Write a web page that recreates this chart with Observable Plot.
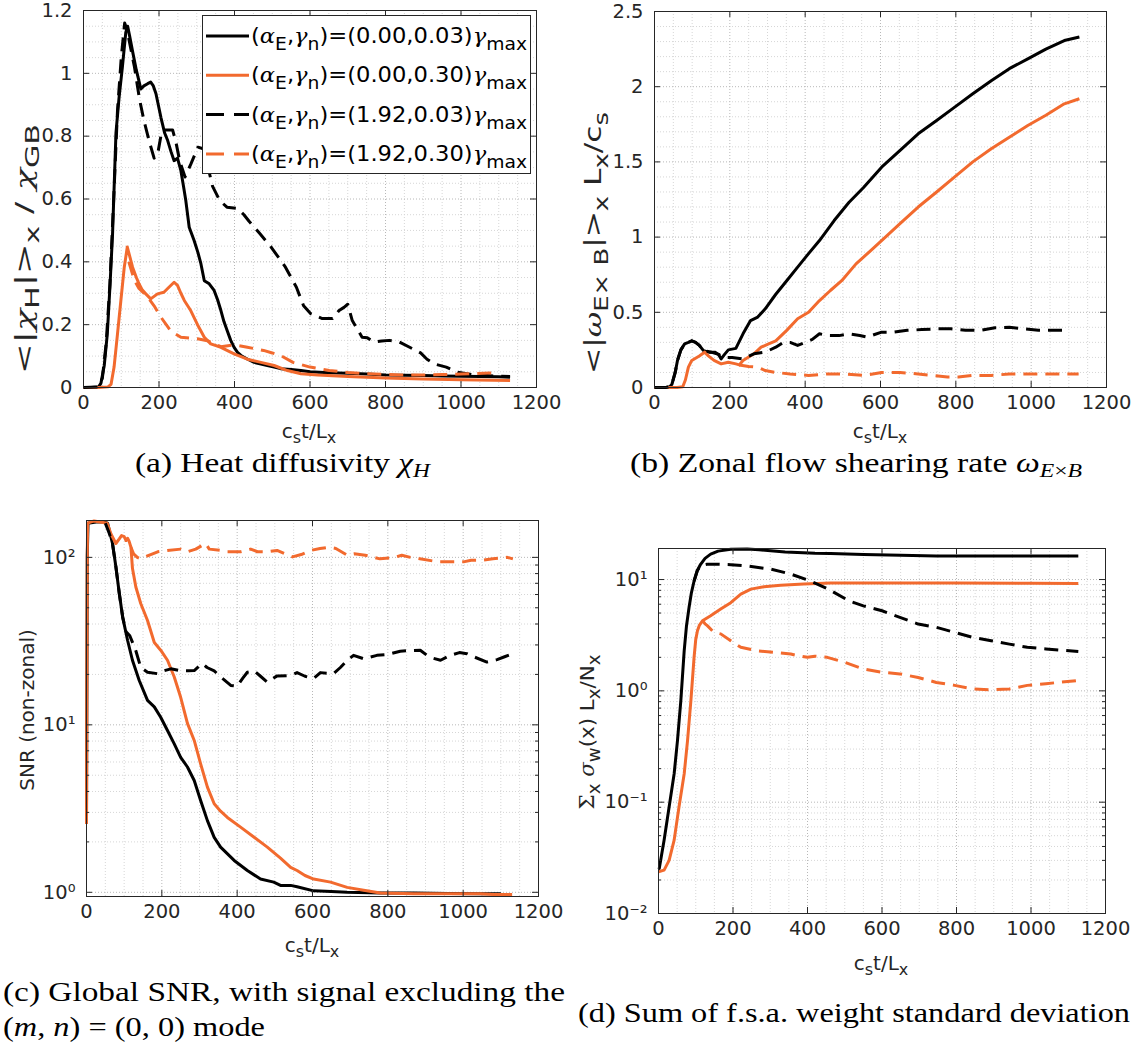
<!DOCTYPE html>
<html><head><meta charset="utf-8">
<script src="https://cdn.jsdelivr.net/npm/d3@7"></script>
<script src="https://cdn.jsdelivr.net/npm/@observablehq/plot@0.6"></script>
<style>
html,body{margin:0;padding:0;background:#fff;}
body{width:1142px;height:1050px;position:relative;overflow:hidden;}
.panel{position:absolute;}
#overlay{position:absolute;left:0;top:0;}
</style></head><body>
<div id="pa" class="panel" style="left:0;top:0"></div>
<div id="pb" class="panel" style="left:571px;top:0"></div>
<div id="pc" class="panel" style="left:0;top:500px"></div>
<div id="pd" class="panel" style="left:571px;top:500px"></div>
<svg id="overlay" width="1142" height="1050"></svg>
<script>
// ---------------- data (time c_s t / L_x, value) ----------------
const legendLabels = ["(0.00,0.03)", "(0.00,0.30)", "(1.92,0.03)", "(1.92,0.30)"];

// (a) heat diffusivity
const chiA_black = [[0,0],[20,0],[40,0.002],[46,0.013],[55,0.07],[63,0.17],[70,0.32],[77,0.49],[86,0.81],[94,0.92],[103,1.02],[112,1.13],[117,1.15],[122,1.12],[130,1.07],[140,1.01],[147,0.975],[152,0.95],[160,0.96],[170,0.967],[178,0.972],[185,0.96],[192,0.935],[205,0.86],[215,0.81],[223,0.786],[232,0.75],[240,0.722],[249,0.73],[258,0.69],[265,0.64],[271,0.595],[280,0.51],[293,0.468],[303,0.43],[311,0.394],[320,0.34],[333,0.33],[346,0.309],[355,0.28],[364,0.245],[372,0.21],[381,0.18],[390,0.15],[399,0.128],[408,0.112],[417,0.102],[435,0.09],[452,0.08],[470,0.075],[487,0.07],[505,0.065],[522,0.06],[550,0.057],[576,0.054],[600,0.05],[650,0.047],[700,0.045],[750,0.043],[800,0.04],[850,0.039],[900,0.038],[950,0.037],[1000,0.036],[1050,0.035],[1100,0.034],[1130,0.033]];
const chiA_orange = [[0,0],[40,0],[65,0.002],[73,0.01],[81,0.065],[90,0.17],[99,0.277],[108,0.383],[116,0.447],[122,0.42],[130,0.383],[140,0.35],[147,0.33],[156,0.31],[165,0.298],[178,0.282],[196,0.298],[213,0.303],[227,0.32],[240,0.335],[249,0.325],[258,0.3],[267,0.277],[284,0.245],[302,0.2],[320,0.16],[337,0.139],[364,0.128],[399,0.107],[434,0.09],[470,0.08],[505,0.07],[540,0.054],[576,0.044],[620,0.04],[700,0.035],[800,0.03],[900,0.027],[1000,0.025],[1130,0.022]];
const chiA_blackDash = [[0,0],[40,0.002],[50,0.03],[60,0.14],[70,0.33],[80,0.6],[90,0.88],[100,1.05],[109,1.16],[115,1.14],[125,1.08],[135,1.02],[148,0.92],[160,0.85],[175,0.78],[187,0.73],[196,0.74],[205,0.8],[216,0.82],[236,0.82],[245,0.78],[255,0.72],[269,0.67],[284,0.71],[303,0.765],[317,0.76],[330,0.7],[342,0.64],[361,0.595],[380,0.574],[408,0.57],[425,0.55],[438,0.53],[467,0.49],[497,0.447],[535,0.383],[564,0.319],[583,0.26],[602,0.235],[631,0.22],[660,0.22],[677,0.245],[690,0.255],[700,0.265],[712,0.213],[738,0.16],[752,0.158],[770,0.145],[790,0.148],[810,0.15],[835,0.146],[864,0.128],[893,0.11],[910,0.09],[929,0.075],[961,0.065],[991,0.049],[1035,0.04],[1070,0.038],[1100,0.036],[1130,0.035]];
const chiA_orangeDash = [[120,0.40],[130,0.36],[140,0.33],[147,0.315],[160,0.30],[169,0.29],[187,0.26],[205,0.224],[231,0.18],[258,0.16],[302,0.155],[328,0.149],[364,0.13],[399,0.136],[434,0.128],[477,0.118],[500,0.11],[525,0.1],[555,0.08],[600,0.065],[651,0.054],[700,0.048],[747,0.044],[800,0.042],[842,0.04],[900,0.04],[950,0.041],[1000,0.043],[1038,0.044],[1076,0.046],[1100,0.046]];

// (b) zonal flow shearing rate
const omegaB_black = [[0,0],[30,0],[40,0.005],[46,0.02],[55,0.1],[61,0.18],[70,0.25],[80,0.29],[90,0.30],[99,0.31],[109,0.30],[119,0.28],[130,0.245],[145,0.235],[160,0.235],[170,0.22],[177,0.19],[186,0.22],[196,0.25],[216,0.26],[235,0.357],[255,0.445],[274,0.468],[294,0.523],[322,0.62],[351,0.71],[380,0.80],[409,0.89],[438,0.977],[477,1.11],[516,1.23],[555,1.33],[603,1.465],[652,1.576],[700,1.687],[749,1.775],[797,1.864],[845,1.953],[894,2.04],[942,2.12],[991,2.185],[1039,2.25],[1088,2.307],[1128,2.33]];
const omegaB_orange = [[0,0],[60,0],[75,0.005],[82,0.05],[90,0.135],[99,0.18],[119,0.21],[133,0.235],[143,0.21],[158,0.18],[177,0.157],[196,0.168],[216,0.157],[225,0.15],[235,0.18],[264,0.224],[283,0.268],[303,0.29],[322,0.31],[351,0.38],[380,0.457],[409,0.5],[438,0.578],[467,0.645],[497,0.71],[535,0.822],[574,0.91],[613,1.0],[651,1.088],[700,1.2],[749,1.3],[797,1.4],[845,1.5],[894,1.587],[942,1.664],[991,1.742],[1039,1.81],[1088,1.886],[1128,1.92]];
const omegaB_blackDash = [[0,0],[30,0],[40,0.005],[46,0.02],[55,0.1],[61,0.18],[70,0.25],[80,0.29],[90,0.30],[99,0.31],[109,0.30],[119,0.28],[130,0.245],[150,0.235],[170,0.22],[185,0.2],[206,0.2],[235,0.19],[264,0.224],[294,0.235],[322,0.268],[342,0.30],[360,0.3],[380,0.28],[400,0.30],[419,0.32],[438,0.357],[458,0.346],[490,0.345],[516,0.357],[545,0.346],[564,0.335],[603,0.368],[632,0.368],[671,0.38],[710,0.385],[749,0.39],[787,0.39],[826,0.38],[865,0.38],[904,0.397],[942,0.40],[981,0.39],[1019,0.38],[1088,0.38]];
const omegaB_orangeDash = [[225,0.15],[250,0.14],[274,0.135],[294,0.113],[322,0.10],[360,0.09],[409,0.08],[458,0.09],[505,0.09],[555,0.08],[603,0.10],[652,0.10],[700,0.09],[740,0.08],[778,0.07],[807,0.07],[845,0.08],[894,0.08],[942,0.09],[1000,0.09],[1039,0.09],[1126,0.09]];

// (c) global SNR (non-zonal)
const snrC_black = [[0,2.6],[2,100],[4,160],[30,163],[50,162],[56,160],[69,121],[78,88],[87,61],[96,44],[109,32],[122,24.3],[140,18.4],[162,14],[180,12.8],[197,11.1],[215,9.25],[233,7.7],[250,6.4],[268,5.6],[286,4.65],[303,3.53],[321,2.68],[339,2.13],[356,1.86],[392,1.55],[427,1.35],[462,1.2],[497,1.15],[515,1.1],[542,1.1],[559,1.08],[603,1.02],[650,1.01],[692,1.0],[780,0.99],[870,0.99],[960,0.985],[1045,0.98],[1100,0.98]];
const snrC_orange = [[0,2.56],[1,20],[2,100],[3,160],[20,165],[40,162],[55,160],[65,138],[78,121],[87,129],[93,135],[100,133],[105,126],[109,130],[113,125],[118,115],[122,86],[131,66.5],[144,53],[162,42],[180,31],[197,27.9],[215,24.3],[233,19.3],[250,14.6],[268,10.2],[286,8.07],[303,5.85],[321,4.25],[339,3.38],[356,3.05],[374,2.8],[409,2.45],[445,2.13],[480,1.86],[515,1.6],[542,1.41],[559,1.35],[580,1.26],[603,1.2],[648,1.15],[692,1.07],[736,1.03],[780,0.99],[869,0.98],[957,0.98],[1045,0.98],[1081,0.97],[1130,0.97]];
const snrC_blackDash = [[50,160],[60,140],[69,121],[78,88],[87,61],[96,44],[105,36],[115,34],[125,30],[131,27.7],[144,22],[162,20.6],[189,20.2],[205,21],[224,21.6],[250,21],[270,21],[286,21.1],[300,22.5],[308,23.2],[320,22],[339,21],[360,19],[383,17.2],[400,17],[415,19],[427,20.6],[445,21],[462,19.5],[480,18],[506,19.6],[542,19.7],[559,20.5],[580,19.5],[603,18.9],[621,20.5],[656,20.2],[674,22],[690,24],[709,26],[736,24.8],[771,26],[798,26.3],[833,27.5],[851,27.7],[886,27.9],[904,26],[920,25],[940,24.3],[966,26],[990,27],[1010,26.6],[1028,25.5],[1063,23.7],[1090,24.5],[1110,25.5],[1132,26.6]];
const snrC_orangeDash = [[118,115],[125,105],[135,100],[144,98],[162,102],[189,108],[215,110],[250,112],[268,108],[290,112],[316,121],[326,112],[356,110],[374,108],[409,108],[436,112],[454,108],[480,108],[506,110],[547,100.6],[570,104],[595,110],[620,113],[644,115],[662,113],[692,103],[711,105],[740,103],[779,98],[818,100],[837,103],[860,100],[885,98],[934,94],[963,94],[1001,94],[1021,96],[1050,96],[1079,98],[1117,100],[1132,98]];

// (d) sum of f.s.a. weight standard deviation
const sigD_black = [[0,0.025],[2,0.0254],[15,0.0456],[28.5,0.0906],[42,0.18],[51,0.359],[60,0.82],[69,2.3],[75,3.8],[82,5.6],[88,7.5],[95.5,9.7],[104,12],[113,13.7],[125,15.5],[140,16.9],[160,18],[194,18.7],[238,18.8],[270,18.5],[301,18.1],[340,17.7],[373,17.5],[420,17.2],[462,17.1],[550,16.8],[650,16.5],[746,16.3],[850,16.3],[950,16.3],[1050,16.3],[1127,16.3]];
const sigD_orange = [[0,0.0237],[15,0.0245],[28.5,0.030],[42,0.0456],[55,0.0906],[69,0.18],[78,0.359],[87,0.82],[95.5,2.0],[100,2.9],[104.6,3.47],[110,3.9],[118,4.26],[140,4.73],[167,5.43],[194,6.2],[221,7.4],[248,8.2],[283,8.6],[328,8.9],[390,9.1],[462,9.3],[600,9.3],[800,9.3],[1000,9.25],[1127,9.2]];
const sigD_blackDash = [[95.5,9.7],[104,12],[113,13.3],[130,13.7],[158,13.7],[194,13.6],[240,13.2],[301,12.4],[355,11.2],[408,9.7],[453,8.3],[511,6.44],[550,5.8],[600,5.24],[648,4.57],[697,3.98],[746,3.72],[795,3.35],[844,3.02],[893,2.82],[942,2.63],[990,2.46],[1040,2.38],[1127,2.26]];
const sigD_orangeDash = [[118,4.26],[125,4.0],[131,3.85],[149,3.35],[167,3.25],[194,2.82],[221,2.46],[265,2.29],[310,2.22],[355,2.14],[380,2.05],[400,2.0],[420,2.05],[453,2.0],[501,1.8],[550,1.57],[600,1.47],[648,1.42],[697,1.32],[746,1.19],[795,1.12],[844,1.04],[893,1.02],[942,1.04],[990,1.12],[1040,1.16],[1127,1.24]];

// axis ticks
const xMajor = [0,200,400,600,800,1000,1200];
const yMajorA = [0,0.2,0.4,0.6,0.8,1,1.2];
const yMajorB = [0,0.5,1,1.5,2,2.5];
const yMajorC = [1,10,100];
const yMajorD = [0.01,0.1,1,10];

// ---------------- styling ----------------
const BLACK = "#000000", ORANGE = "#f26a2e", DASH = "14,8";
const FONT = '"DejaVu Sans",sans-serif';
const xMinor = d3.range(0,1201,50).filter(v => v % 200 !== 0);
const yMinorA = d3.range(0,1.2001,0.05).filter(v => Math.abs(v/0.2 - Math.round(v/0.2)) > 1e-6);
const yMinorB = d3.range(0,2.5001,0.1).filter(v => Math.abs(v/0.5 - Math.round(v/0.5)) > 1e-6);
function logMinor(dom){ const out=[]; for(let e=-3;e<=3;e++) for(let m=2;m<=9;m++){const v=m*10**e; if(v>dom[0]&&v<dom[1]) out.push(v);} return out; }
const sup = {"0":"\u2070","1":"\u00b9","2":"\u00b2","-":"\u207b"};
const logFmt = d => "10" + String(Math.round(Math.log10(d))).split("").map(c=>sup[c]).join("");
const linFmt = d => String(+d.toFixed(2));

function makePanel(el, o){
  const innerW = o.width - o.mL - o.mR, innerH = o.height - o.mT - o.mB;
  const tickC = "#262626";
  const series = [
    {data:o.s[0], color:BLACK, dash:null},
    {data:o.s[1], color:ORANGE, dash:null},
    {data:o.s[2], color:BLACK, dash:DASH},
    {data:o.s[3], color:ORANGE, dash:DASH}
  ];
  const marks = [
    Plot.ruleX(xMinor, {stroke:"#d6d6d6", strokeDasharray:"1,2"}),
    Plot.ruleY(o.yMinor, {stroke:"#d6d6d6", strokeDasharray:"1,2"}),
    Plot.ruleX(xMajor, {stroke:"#b8b8b8", strokeDasharray:"1,2"}),
    Plot.ruleY(o.yMajor, {stroke:"#b8b8b8", strokeDasharray:"1,2"}),
    ...series.map(s => Plot.line(s.data, {x: d=>d[0], y: d=>d[1], stroke: s.color, strokeWidth: 3,
        strokeDasharray: s.dash, strokeLinejoin:"round", strokeLinecap:"butt"})),
    Plot.frame({stroke:tickC, strokeWidth:1}),
    Plot.tickX(xMajor, {x:d=>d, insetTop: innerH-6, stroke:tickC}),
    Plot.tickX(xMajor, {x:d=>d, insetBottom: innerH-6, stroke:tickC}),
    Plot.tickY(o.yMajor, {y:d=>d, insetRight: innerW-6, stroke:tickC}),
    Plot.tickY(o.yMajor, {y:d=>d, insetLeft: innerW-6, stroke:tickC}),
    Plot.axisX({ticks:xMajor, tickSize:0, tickPadding:8, label:null, tickFormat:d=>String(d)}),
    Plot.axisY({ticks:o.yMajor, tickSize:0, tickPadding:11, label:null, tickFormat:o.fmt})
  ];
  if (o.type === "log") {
    marks.push(Plot.tickY(o.yMinor, {y:d=>d, insetRight: innerW-3, stroke:tickC}));
    marks.push(Plot.tickY(o.yMinor, {y:d=>d, insetLeft: innerW-3, stroke:tickC}));
  }
  const chart = Plot.plot({
    width:o.width, height:o.height,
    marginLeft:o.mL, marginRight:o.mR, marginTop:o.mT, marginBottom:o.mB,
    x:{domain:[0,1200]},
    y:{type:o.type, domain:o.domain},
    style:{fontFamily:FONT, fontSize:"19.5px", color:"#262626", background:"transparent", overflow:"visible"},
    marks
  });
  document.getElementById(el).appendChild(chart);
}

makePanel("pa", {width:571, height:420, mL:83, mR:35, mT:10, mB:33, type:"linear", domain:[0,1.2],
  yMajor:yMajorA, yMinor:yMinorA, fmt:linFmt, s:[chiA_black, chiA_orange, chiA_blackDash, chiA_orangeDash]});
makePanel("pb", {width:571, height:420, mL:83, mR:36, mT:11, mB:33, type:"linear", domain:[0,2.5],
  yMajor:yMajorB, yMinor:yMinorB, fmt:linFmt, s:[omegaB_black, omegaB_orange, omegaB_blackDash, omegaB_orangeDash]});
const domC = [0.944, 166];
makePanel("pc", {width:571, height:420, mL:86, mR:33, mT:20, mB:24, type:"log", domain:domC,
  yMajor:yMajorC, yMinor:logMinor(domC), fmt:logFmt, s:[snrC_black, snrC_orange, snrC_blackDash, snrC_orangeDash]});
const domD = [0.01, 19];
makePanel("pd", {width:571, height:440, mL:87, mR:37, mT:48, mB:27, type:"log", domain:domD,
  yMajor:yMajorD, yMinor:logMinor(domD), fmt:logFmt, s:[sigD_black, sigD_orange, sigD_blackDash, sigD_orangeDash]});

// ---------------- text overlay: axis labels, legend, captions ----------------
// rich text: parts = [text, flags] ; flags: s=subscript, i=italic, g=greek serif
function rich(parts, subDy, subFs){
  let cur = 0;
  return parts.map(([t, f=""]) => {
    const target = f.includes("s") ? subDy : 0;
    const dy = target - cur; cur = target;
    let a = "";
    if (dy) a += ` dy="${dy}"`;
    if (f.includes("s")) a += ` font-size="${subFs}"`;
    if (f.includes("i")) a += ` font-style="italic"`;
    if (f.includes("g")) a += ` font-family="DejaVu Serif"`;
    return `<tspan${a}>${t}</tspan>`;
  }).join("");
}
const xLabel = (x, y) => `<text x="${x}" y="${y}" text-anchor="middle" font-family='${FONT}' font-size="20" fill="#262626">${rich([["c"],["s","s"],["t/L"],["x","s"]],5,16)}</text>`;
const yLabel = (x, y, fs, len, inner) => `<text transform="translate(${x},${y}) rotate(-90)" text-anchor="middle" font-family='${FONT}' font-size="${fs}" fill="#262626"${len?` textLength="${len}" lengthAdjust="spacingAndGlyphs"`:""}>${inner}</text>`;

let svg = "";
svg += xLabel(309, 438) + xLabel(880, 438) + xLabel(312, 952) + xLabel(881, 970);
svg += yLabel(32, 249, 23, 250, rich([["&lt;|"],["χ","ig"],["H","s"],["|&gt;"],["x","s"],[" / "],["χ","ig"],["GB","s"]],7,19));
svg += yLabel(601, 243, 23, 262, rich([["&lt;|"],["ω","ig"],["E× B","s"],["|&gt;"],["x","s"],[" L"],["x","s"],["/c"],["s","s"]],7,19));
svg += yLabel(34, 710, 20, 0, rich([["SNR (non-zonal)"]],0,20));
svg += yLabel(594, 732, 20, 155, rich([["Σ","g"],["x","s"],[" "],["σ","ig"],["w","s"],["(x) L"],["x","s"],["/N"],["x","s"]],6,17));

// legend (panel a)
svg += `<rect x="202.5" y="15.5" width="328" height="158" fill="#fff" stroke="#262626" stroke-width="1"/>`;
const legColors = [BLACK, ORANGE, BLACK, ORANGE];
const legDash = [null, null, "18,10", "18,10"];
legendLabels.forEach((lab, i) => {
  const cy = 36 + i*39.3;
  svg += `<line x1="206" x2="249" y1="${cy}" y2="${cy}" stroke="${legColors[i]}" stroke-width="3" ${legDash[i]?`stroke-dasharray="${legDash[i]}"`:""}/>`;
  svg += `<text x="251" y="${cy+7}" font-family='${FONT}' font-size="20.5" fill="#000" textLength="276" lengthAdjust="spacingAndGlyphs">${rich([["("],["α","ig"],["E","s"],[","],["γ","ig"],["n","s"],[")="+lab],["γ","ig"],["max","s"]],7,17)}</text>`;
});

// captions
const CF = `font-family="Liberation Serif, Times New Roman, serif" font-size="27" fill="#000" lengthAdjust="spacingAndGlyphs"`;
svg += `<text x="135" y="472" ${CF} textLength="295">${rich([["(a) Heat diffusivity "],["χ","i"],["H","si"]],5,19)}</text>`;
svg += `<text x="630" y="472" ${CF} textLength="452">${rich([["(b) Zonal flow shearing rate "],["ω","i"],["E","si"],["×","s"],["B","si"]],5,19)}</text>`;
svg += `<text x="3" y="1001" ${CF} textLength="562">(c) Global SNR, with signal excluding the</text>`;
svg += `<text x="3" y="1036" ${CF} textLength="262">${rich([["("],["m","i"],[", "],["n","i"],[") = (0, 0) mode"]],0,27)}</text>`;
svg += `<text x="578" y="1022" ${CF} textLength="552">(d) Sum of f.s.a. weight standard deviation</text>`;
document.getElementById("overlay").innerHTML = svg;
</script>
</body></html>
